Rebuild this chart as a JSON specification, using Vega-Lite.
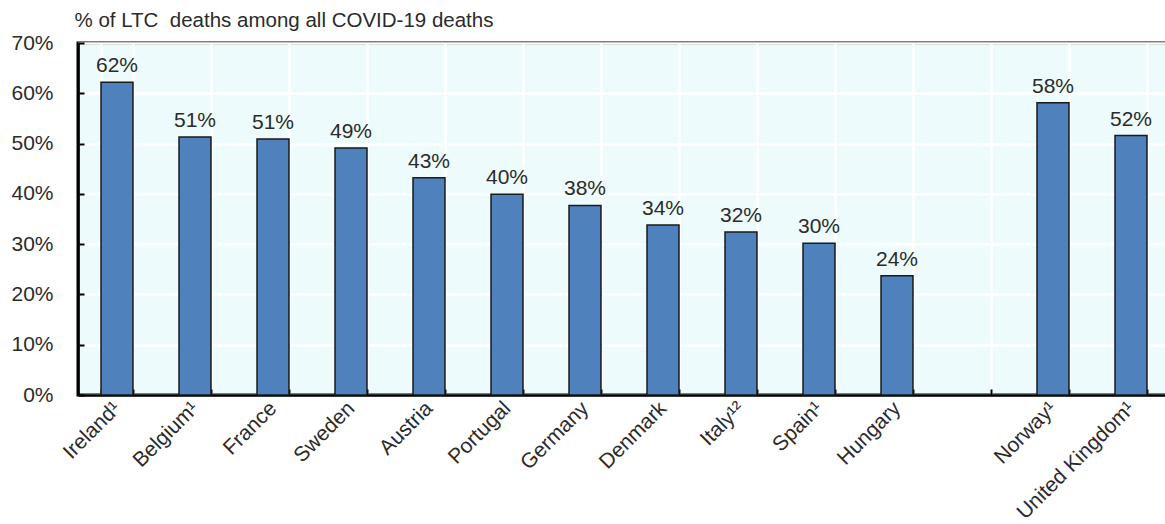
{
  "$schema": "https://vega.github.io/schema/vega-lite/v6.json",
  "autosize": "none",
  "width": 1092,
  "height": 352,
  "padding": {"left": 78, "top": 43, "right": 0, "bottom": 129},
  "background": "white",
  "config": {
    "view": {"fill": "#EDFBFD", "stroke": "#000000", "strokeWidth": 3},
    "font": "Liberation Sans",
    "axis": {
      "labelFont": "Liberation Sans",
      "labelFontSize": 21,
      "labelColor": "#2b2b2b",
      "domainColor": "#000000",
      "domainWidth": 2.5,
      "tickColor": "#000000",
      "tickWidth": 2,
      "gridColor": "#FFFFFF",
      "gridWidth": 2.5,
      "gridOpacity": 1
    }
  },
  "data": {
    "values": [
      {"country": "Ireland¹", "share": 0.622},
      {"country": "Belgium¹", "share": 0.513},
      {"country": "France", "share": 0.509},
      {"country": "Sweden", "share": 0.491},
      {"country": "Austria", "share": 0.432},
      {"country": "Portugal", "share": 0.399},
      {"country": "Germany", "share": 0.377},
      {"country": "Denmark", "share": 0.338},
      {"country": "Italy¹²", "share": 0.324},
      {"country": "Spain¹", "share": 0.302},
      {"country": "Hungary", "share": 0.237},
      {"country": " ", "share": null},
      {"country": "Norway¹", "share": 0.581},
      {"country": "United Kingdom¹", "share": 0.516}
    ]
  },
  "encoding": {
    "x": {
      "field": "country",
      "type": "nominal",
      "sort": null,
      "scale": {
        "domain": ["Ireland¹", "Belgium¹", "France", "Sweden", "Austria", "Portugal", "Germany", "Denmark", "Italy¹²", "Spain¹", "Hungary", " ", "Norway¹", "United Kingdom¹"],
        "paddingInner": 0.59,
        "paddingOuter": 0.295
      },
      "axis": {
        "title": null,
        "labelAngle": -45,
        "labelAlign": "right",
        "labelBaseline": "middle",
        "labelPadding": 16,
        "tickBand": "extent",
        "tickSize": -6,
        "grid": true
      }
    },
    "y": {
      "field": "share",
      "type": "quantitative",
      "scale": {"domain": [0, 0.7], "nice": false},
      "axis": {
        "values": [0, 0.1, 0.2, 0.3, 0.4, 0.5, 0.6, 0.7],
        "format": ".0%",
        "tickSize": -6,
        "labelPadding": 31,
        "grid": true,
        "title": "% of LTC\u00a0 deaths among all COVID-19 deaths",
        "titleAngle": 0,
        "titleAlign": "left",
        "titleBaseline": "alphabetic",
        "titleX": -4,
        "titleY": -17,
        "titleFont": "Liberation Sans",
        "titleFontSize": 20.5,
        "titleFontWeight": "normal",
        "titleColor": "#2b2b2b"
      }
    }
  },
  "layer": [
    {
      "mark": {"type": "bar", "fill": "#4F81BD", "stroke": "#1a1a1a", "strokeWidth": 1.5}
    },
    {
      "transform": [{"filter": "datum.share != null"}],
      "mark": {"type": "text", "baseline": "alphabetic", "dy": -10, "fontSize": 21, "color": "#2b2b2b", "font": "Liberation Sans"},
      "encoding": {
        "text": {"field": "share", "type": "quantitative", "format": ".0%"}
      }
    }
  ]
}
